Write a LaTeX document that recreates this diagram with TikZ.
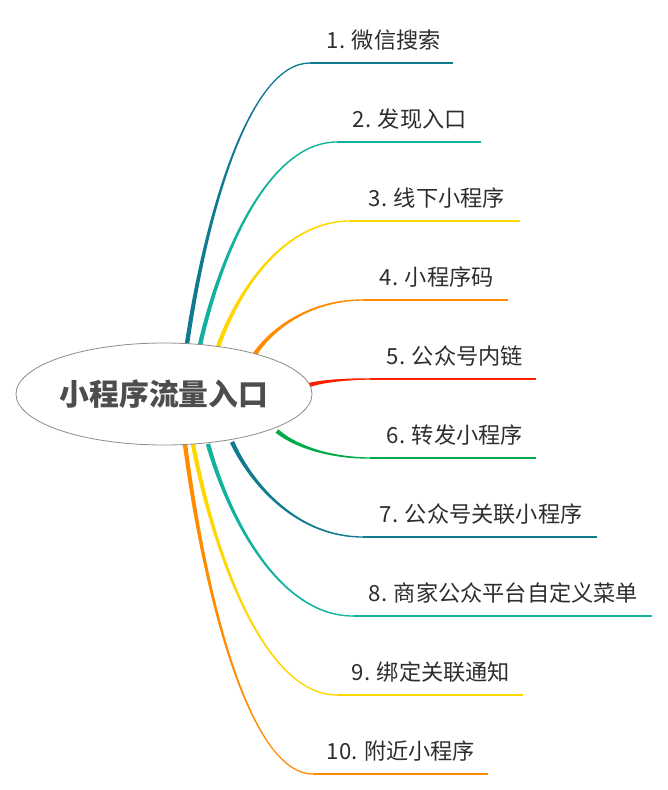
\documentclass[tikz,border=0pt]{standalone}
\usepackage{fontspec}
\setmainfont{Noto Sans CJK SC}
\usetikzlibrary{calc,shapes.geometric}
\definecolor{cblue}{RGB}{16,122,142}
\definecolor{cteal}{RGB}{18,178,158}
\definecolor{cyellow}{RGB}{255,214,0}
\definecolor{corange}{RGB}{255,140,0}
\definecolor{cred}{RGB}{255,32,0}
\definecolor{cgreen}{RGB}{0,170,72}
\definecolor{txt}{RGB}{45,45,45}
\definecolor{roottxt}{RGB}{77,77,77}
\begin{document}
\begin{tikzpicture}[x=1pt,y=-1pt,
  lab/.style={anchor=base west, inner sep=0pt, font=\fontsize{22.2}{23}\selectfont, text=txt},
  rootnode/.style={ellipse, draw=black!45, line width=0.8pt, fill=white, minimum width=296pt, minimum height=102pt, inner sep=0pt, font=\fontsize{29.8}{30}\selectfont\bfseries, text=roottxt}]
\useasboundingbox (0,0) rectangle (668,790);
\foreach \i/\ax/\ay/\bx/\by/\ex/\lx/\col/\lab in {
  1/187/344/310/63/453/328/cblue/{1. 微信搜索},
  2/200/345/337/142/481/354/cteal/{2. 发现入口},
  3/218/347/350/221/520/370/cyellow/{3. 线下小程序},
  4/255/354/363/300/508/381/corange/{4. 小程序码},
  5/309/385/370/379/536/388/cred/{5. 公众号内链},
  6/277/431/370/458/536/388/cgreen/{6. 转发小程序},
  7/232/442/363/537/597/381/cblue/{7. 公众号关联小程序},
  8/208/444/353/616/652/370/cteal/{8. 商家公众平台自定义菜单},
  9/193/444/337/695/523/353/cyellow/{9. 绑定关联通知},
  10/185/444/313/774/488/328/corange/{10. 附近小程序}}
{
  \coordinate (s\i) at (\ax,\ay);
  \coordinate (e\i) at (\bx,\by);
  \coordinate (u\i) at (\ex,\by);
  \coordinate (c\i) at ({\ax+0.15*(\bx-\ax)},{\ay+0.45*(\by-\ay)});
  \coordinate (d\i) at ({\ax+0.5*(\bx-\ax)},\by);
  \fill[\col] ($(s\i)!2.2pt!90:(c\i)$)
     .. controls ($(c\i)!1.6pt!90:(d\i)$) and ($(d\i)!1pt!90:(e\i)$) .. ($(e\i)!0.65pt!90:(u\i)$)
     -- ($(e\i)!0.65pt!-90:(u\i)$)
     .. controls ($(d\i)!1pt!-90:(e\i)$) and ($(c\i)!1.6pt!-90:(d\i)$) .. ($(s\i)!2.2pt!-90:(c\i)$)
     -- cycle;
  \draw[\col, line width=1.3pt] (e\i) -- (u\i);
  \node[lab] (l\i) at (\lx-1.5,\by-14.5) {\lab};
}
\node[rootnode] (root) at (164,394) {小程序流量入口};
\end{tikzpicture}
\end{document}
